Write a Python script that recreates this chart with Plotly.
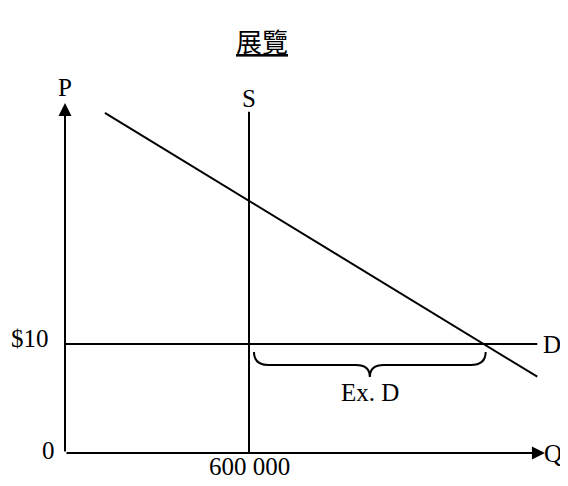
import plotly.graph_objects as go

# chart values
title_text = "展覽"
q_supply = 600000          # vertical supply S
price = 10                 # price line ($10)
demand_q = [130000, 1540000]
demand_p = [31.2, 7.0]
price_line_q = [0, 1540000]
supply_p = [0, 31.3]
axis_q_max = 1565000
axis_p_max = 32.1
q_tick_label = "600 000"
p_tick_label = "$10"

# page has an 8px body margin, so the figure is 8px smaller than the window
W, H = 560, 478
X0, Y0 = 57, 445           # origin in figure pixels
QPX = 184 / 600000
PPX = 10.9

def dq(px):
    return px / QPX

def dp(px):
    return px / PPX

# where the demand line crosses the price line
slope = (demand_p[1] - demand_p[0]) / (demand_q[1] - demand_q[0])
q_demand_at_price = demand_q[0] + (price - demand_p[0]) / slope

SERIF = "Liberation Serif"
fs = 25
BLACK = "black"

fig = go.Figure()

# demand line
fig.add_trace(go.Scatter(x=demand_q, y=demand_p, mode="lines",
                         line=dict(color=BLACK, width=2), hoverinfo="skip"))
# price line $10
fig.add_trace(go.Scatter(x=price_line_q, y=[price, price], mode="lines",
                         line=dict(color=BLACK, width=2), hoverinfo="skip"))
# supply S
fig.add_trace(go.Scatter(x=[q_supply, q_supply], y=supply_p, mode="lines",
                         line=dict(color=BLACK, width=2), hoverinfo="skip"))

# brace under excess demand
xl, xr = q_supply + dq(5), q_demand_at_price + dq(2)
xm = (xl + xr) / 2
yt = price - dp(8)
yb = price - dp(21)
ytip = price - dp(33)
r = dq(15)
rm = dq(14)
brace = (f"M {xl},{yt} Q {xl},{yb} {xl + r},{yb} L {xm - rm},{yb} "
         f"Q {xm},{yb} {xm},{ytip} Q {xm},{yb} {xm + rm},{yb} "
         f"L {xr - r},{yb} Q {xr},{yb} {xr},{yt}")
fig.add_shape(type="path", path=brace, xref="x", yref="y",
              line=dict(color=BLACK, width=2))

# axes with arrows
fig.add_annotation(x=axis_q_max, y=0, ax=0, ay=0, xref="x", yref="y",
                   axref="x", ayref="y", showarrow=True, arrowhead=2,
                   arrowsize=1.3, arrowwidth=2, arrowcolor=BLACK, text="")
fig.add_annotation(x=0, y=axis_p_max, ax=0, ay=0, xref="x", yref="y",
                   axref="x", ayref="y", showarrow=True, arrowhead=2,
                   arrowsize=1.3, arrowwidth=2, arrowcolor=BLACK, text="")

def label(text, x, y, xanchor="center", yanchor="middle", xshift=0, yshift=0, size=fs):
    fig.add_annotation(x=x, y=y, xref="x", yref="y", text=text, showarrow=False,
                       xanchor=xanchor, yanchor=yanchor, xshift=xshift, yshift=yshift,
                       font=dict(family=SERIF, size=size, color=BLACK))

label("P", 0, axis_p_max, yanchor="bottom", yshift=0)
label("S", q_supply, supply_p[1], yanchor="bottom", yshift=-2)
label("D", price_line_q[1], price, xanchor="left", xshift=4)
label(p_tick_label, 0, price, xanchor="right", xshift=-14, yshift=6)
label("0", 0, 0, xanchor="right", xshift=-8, yshift=3)
label(q_tick_label, q_supply, 0, yanchor="top", yshift=2)
label("Q", axis_q_max, 0, xanchor="left", xshift=-3)
label("Ex. D", xm, ytip, yanchor="top", yshift=0)

# title
fig.add_annotation(x=254 / W, y=1 - 12 / H, xref="paper", yref="paper",
                   text=f"<u>{title_text}</u>", showarrow=False,
                   font=dict(family="Noto Sans CJK TC", size=26, color=BLACK))

fig.update_layout(
    width=W, height=H, margin=dict(l=0, r=0, t=0, b=0),
    paper_bgcolor="white", plot_bgcolor="white", showlegend=False,
    xaxis=dict(range=[dq(-X0), dq(W - X0)], visible=False, fixedrange=True),
    yaxis=dict(range=[dp(-(H - Y0)), dp(Y0)], visible=False, fixedrange=True),
)

fig.write_html("out.html")
